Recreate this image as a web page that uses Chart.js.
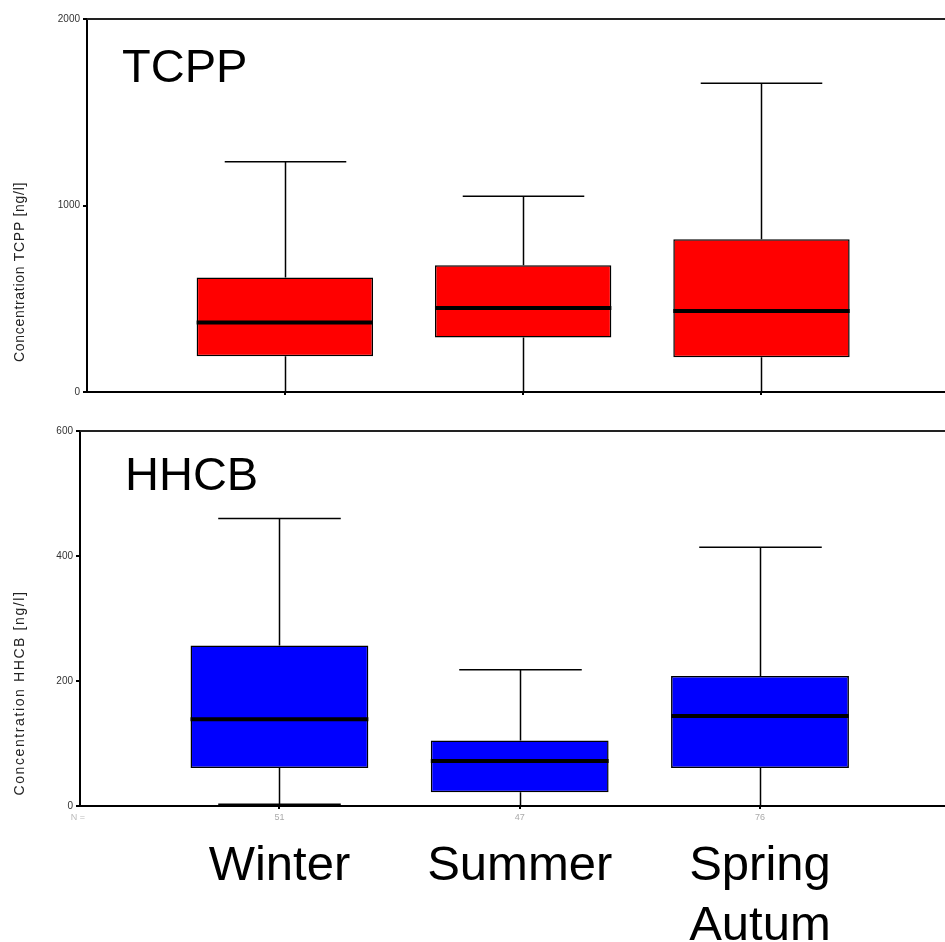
<!DOCTYPE html>
<html>
<head>
<meta charset="utf-8">
<script src="https://cdn.jsdelivr.net/npm/chart.js@4.4.1/dist/chart.umd.min.js"></script>
<style>
  html, body { margin: 0; padding: 0; background: #fff; }
  canvas { display: block; }
</style>
</head>
<body>
<canvas id="tcpp" width="945" height="410"></canvas>
<canvas id="hhcb" width="945" height="532"></canvas>
<script>
const seasons = ["Winter", "Summer", ["Spring", "Autum"]];
const sampleCounts = ["51", "47", "76"];

// TCPP, ng/l
const tcppMin = [0, 0, 0];
const tcppQ1 = [192, 292, 186];
const tcppMedian = [373, 451, 434];
const tcppQ3 = [614, 680, 819];
const tcppMax = [1235, 1049, 1655];
const tcppTicks = [0, 1000, 2000];

// HHCB, ng/l
const hhcbMin = [3, 0, 0];
const hhcbQ1 = [61, 22, 61];
const hhcbMedian = [139, 72, 144];
const hhcbQ3 = [257, 105, 208];
const hhcbMax = [460, 218, 414];
const hhcbTicks = [0, 200, 400, 600];

const font = "'Liberation Sans', Arial, sans-serif";

// whiskers, caps and median lines on top of the floating bars
const boxPlugin = {
  id: "boxExtras",
  afterDatasetsDraw(chart, args, opts) {
    const { ctx } = chart;
    const xs = chart.scales.x;
    const ys = chart.scales.y;
    const bars = chart.getDatasetMeta(0).data;
    const capHalf = xs.getPixelForValue(1 + opts.capWidth / 2) - xs.getPixelForValue(1);
    ctx.save();
    ctx.strokeStyle = "#000";
    ctx.lineCap = "butt";
    opts.median.forEach((med, i) => {
      const cx = Math.round(xs.getPixelForValue(i + 1)) + 0.5;
      const yMax = ys.getPixelForValue(opts.max[i]);
      const yMin = ys.getPixelForValue(opts.min[i]);
      const yQ1 = ys.getPixelForValue(opts.q1[i]);
      const yQ3 = ys.getPixelForValue(opts.q3[i]);
      ctx.lineWidth = 1.5;
      ctx.beginPath();
      ctx.moveTo(cx, yQ3);
      ctx.lineTo(cx, yMax);
      ctx.moveTo(cx - capHalf, yMax);
      ctx.lineTo(cx + capHalf, yMax);
      ctx.moveTo(cx, yQ1);
      ctx.lineTo(cx, yMin);
      if (opts.min[i] > 0) {
        ctx.moveTo(cx - capHalf, yMin);
        ctx.lineTo(cx + capHalf, yMin);
      }
      ctx.stroke();
      const bar = bars[i];
      const yMed = ys.getPixelForValue(med);
      ctx.lineWidth = 4;
      ctx.beginPath();
      ctx.moveTo(bar.x - bar.width / 2, yMed);
      ctx.lineTo(bar.x + bar.width / 2, yMed);
      ctx.stroke();
    });
    ctx.restore();
  },
};

// frame line, big panel title, rotated axis title, bottom labels
const decorPlugin = {
  id: "decor",
  afterDraw(chart, args, opts) {
    const { ctx, chartArea } = chart;
    ctx.save();
    ctx.strokeStyle = "#222";
    ctx.lineWidth = 2;
    ctx.beginPath();
    ctx.moveTo(chartArea.left, chartArea.top);
    ctx.lineTo(chartArea.right, chartArea.top);
    ctx.stroke();

    ctx.fillStyle = "#000";
    ctx.font = `47px ${font}`;
    ctx.textAlign = "left";
    ctx.textBaseline = "alphabetic";
    ctx.fillText(opts.title, chartArea.left + opts.titleDx, chartArea.top + opts.titleDy);

    ctx.save();
    ctx.translate(20, opts.axisTitleY);
    ctx.rotate(-Math.PI / 2);
    ctx.font = `14px ${font}`;
    ctx.letterSpacing = opts.axisTitleSpacing;
    ctx.fillStyle = "#222";
    ctx.textAlign = "center";
    ctx.textBaseline = "middle";
    ctx.fillText(opts.axisTitle, 0, 0);
    ctx.restore();

    if (opts.categoryLabels) {
      const xs = chart.scales.x;
      ctx.fillStyle = "#bbb";
      ctx.font = `9px ${font}`;
      ctx.textAlign = "center";
      ctx.textBaseline = "middle";
      ctx.fillText("N =", chartArea.left - 2, chartArea.bottom + 12);

      ctx.fillStyle = "#000";
      ctx.font = `49px ${font}`;
      ctx.textBaseline = "alphabetic";
      seasons.forEach((label, i) => {
        const lines = Array.isArray(label) ? label : [label];
        const cx = xs.getPixelForValue(i + 1);
        lines.forEach((line, j) => {
          ctx.fillText(line, cx, chartArea.bottom + 74 + j * 60);
        });
      });
    }
    ctx.restore();
  },
};

function buildPanel(canvasId, series, panel) {
  const boxData = series.q1.map((q1, i) => ({ x: i + 1, y: [q1, series.q3[i]] }));
  return new Chart(document.getElementById(canvasId), {
    type: "bar",
    data: {
      datasets: [
        {
          data: boxData,
          backgroundColor: panel.color,
          borderColor: "#000",
          borderWidth: 1.5,
          borderSkipped: false,
          categoryPercentage: 1,
          barPercentage: 0.74,
        },
      ],
    },
    options: {
      responsive: false,
      animation: false,
      layout: { padding: { top: panel.padTop, left: 0, right: 0, bottom: 0 } },
      plugins: {
        legend: { display: false },
        tooltip: { enabled: false },
        boxExtras: {
          min: series.min,
          q1: series.q1,
          median: series.median,
          q3: series.q3,
          max: series.max,
          capWidth: 0.51,
        },
        decor: panel.decor,
      },
      scales: {
        x: {
          type: "linear",
          min: 0.17,
          max: 3.77,
          offset: false,
          afterBuildTicks: (s) => {
            s.ticks = seasons.map((_, i) => ({ value: i + 1 }));
          },
          afterFit: (s) => {
            s.height = panel.xHeight;
          },
          border: { color: "#000", width: 2 },
          grid: { offset: false, drawOnChartArea: false, tickLength: 3, color: "#000", lineWidth: 2 },
          ticks: {
            display: panel.showCounts,
            autoSkip: false,
            maxRotation: 0,
            padding: 3,
            color: "#aaa",
            font: { family: font, size: 9 },
            callback: (v, i) => sampleCounts[i],
          },
        },
        y: {
          min: series.ticks[0],
          max: series.ticks[series.ticks.length - 1],
          afterBuildTicks: (s) => {
            s.ticks = series.ticks.map((v) => ({ value: v }));
          },
          afterFit: (s) => {
            s.width = panel.yWidth;
          },
          border: { color: "#000", width: 2 },
          grid: { drawOnChartArea: false, tickLength: 4, color: "#000", lineWidth: 2 },
          ticks: {
            color: "#333",
            padding: 3,
            font: { family: font, size: 10 },
            callback: (v) => String(v),
          },
        },
      },
    },
    plugins: [boxPlugin, decorPlugin],
  });
}

buildPanel(
  "tcpp",
  { min: tcppMin, q1: tcppQ1, median: tcppMedian, q3: tcppQ3, max: tcppMax, ticks: tcppTicks },
  {
    color: "#ff0000",
    padTop: 19,
    xHeight: 18,
    yWidth: 87,
    showCounts: false,
    decor: {
      title: "TCPP",
      titleDx: 35,
      titleDy: 63,
      axisTitle: "Concentration TCPP [ng/l]",
      axisTitleY: 272,
      axisTitleSpacing: "0.7px",
      categoryLabels: false,
    },
  }
);

buildPanel(
  "hhcb",
  { min: hhcbMin, q1: hhcbQ1, median: hhcbMedian, q3: hhcbQ3, max: hhcbMax, ticks: hhcbTicks },
  {
    color: "#0000ff",
    padTop: 21,
    xHeight: 136,
    yWidth: 80,
    showCounts: true,
    decor: {
      title: "HHCB",
      titleDx: 45,
      titleDy: 59,
      axisTitle: "Concentration HHCB [ng/l]",
      axisTitleY: 283,
      axisTitleSpacing: "1.6px",
      categoryLabels: true,
    },
  }
);
</script>
</body>
</html>
